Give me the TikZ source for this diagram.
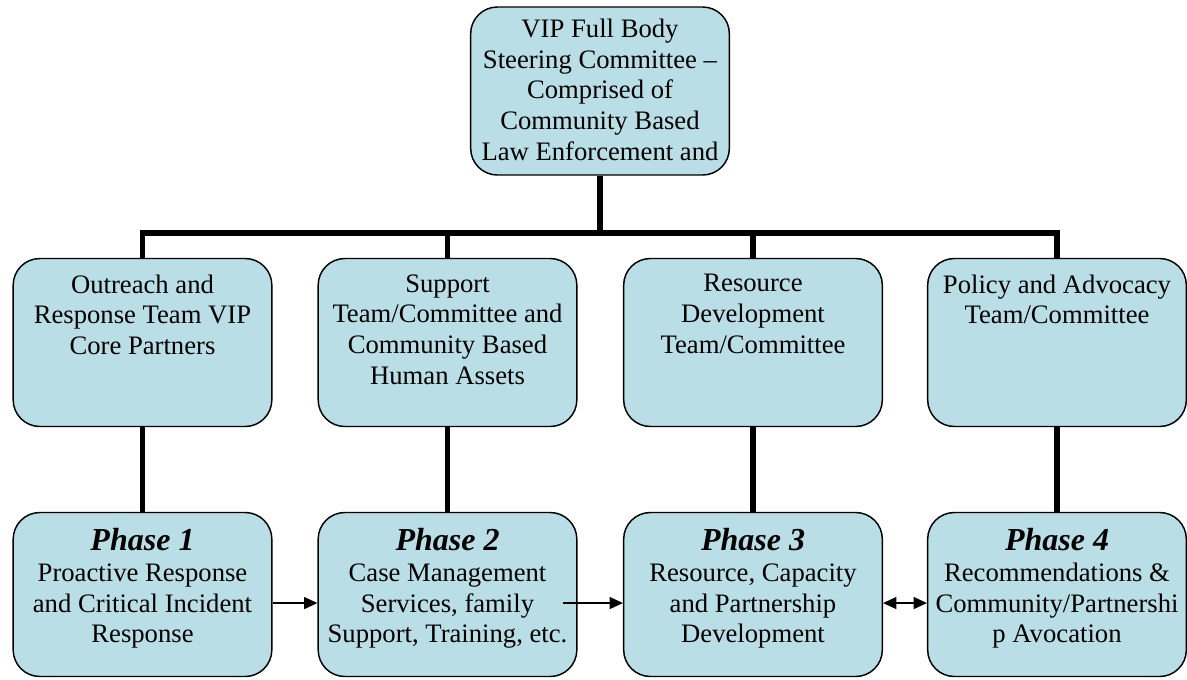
\documentclass[tikz,border=0pt]{standalone}
\usepackage{fontspec}
\setmainfont{Liberation Serif}
\usetikzlibrary{arrows.meta}
\definecolor{vipblue}{RGB}{185,222,229}
\newcommand{\cell}[3]{\parbox[c][#1][t]{194pt}{\centering\vspace*{#2}#3}}
\newcommand{\phase}[1]{{\fontsize{24}{27}\selectfont\bfseries\itshape Phase #1}}
\tikzset{
box/.style={draw, line width=1.1pt, fill=vipblue, rounded corners=20pt, inner sep=0pt,
  font=\fontsize{20}{23}\selectfont},
bus/.style={line width=4pt},
flow/.style={line width=1.1pt, -{Triangle[length=10pt,width=9pt]}},
twoway/.style={line width=1.1pt, {Triangle[length=10pt,width=9pt]}-{Triangle[length=10pt,width=9pt]}}
}
\begin{document}
\begin{tikzpicture}[x=0.75pt,y=-0.75pt]
\useasboundingbox (0,0) rectangle (1187,679);
\node[box] (top) at (600,91) {\cell{126pt}{9pt}{VIP Full Body\\ Steering Committee --\\ Comprised of\\ Community Based\\ Law Enforcement and}};
\node[box] (m1) at (142.5,342.5) {\cell{126pt}{12pt}{Outreach and\\ Response Team VIP\\ Core Partners}};
\node[box] (m2) at (447.5,342.5) {\cell{126pt}{12pt}{Support\\ Team/Committee and\\ Community Based\\ Human Assets}};
\node[box] (m3) at (753,342.5) {\cell{126pt}{12pt}{Resource\\ Development\\ Team/Committee}};
\node[box] (m4) at (1057,342.5) {\cell{126pt}{12pt}{Policy and Advocacy\\ Team/Committee}};
\node[box] (b1) at (142.5,594.5) {\cell{123pt}{12pt}{\phase{1}\\ Proactive Response\\ and Critical Incident\\ Response}};
\node[box] (b2) at (447.5,594.5) {\cell{123pt}{12pt}{\phase{2}\\ Case Management\\ Services, family\\ Support, Training, etc.}};
\node[box] (b3) at (753,594.5) {\cell{123pt}{12pt}{\phase{3}\\ Resource, Capacity\\ and Partnership\\ Development}};
\node[box] (b4) at (1057,594.5) {\cell{123pt}{12pt}{\phase{4}\\ Recommendations \&\\ Community/Partnershi\\ p Avocation}};
\coordinate (hub) at (600,233);
\draw[bus] (top.south) -- (hub);
\draw[bus] (m1.north) |- (hub) -| (m4.north);
\draw[bus] (m2.north) -- (m2.north |- hub);
\draw[bus] (m3.north) -- (m3.north |- hub);
\draw[bus] (m1) -- (b1);
\draw[bus] (m2) -- (b2);
\draw[bus] (m3) -- (b3);
\draw[bus] (m4) -- (b4);
\draw[flow] ([yshift=-6.4pt]b1.east) -- ([yshift=-6.4pt]b2.west);
\draw[flow] ([xshift=-11pt,yshift=-6.4pt]b2.east) -- ([yshift=-6.4pt]b3.west);
\draw[twoway] ([yshift=-6.4pt]b3.east) -- ([yshift=-6.4pt]b4.west);
\end{tikzpicture}
\end{document}
